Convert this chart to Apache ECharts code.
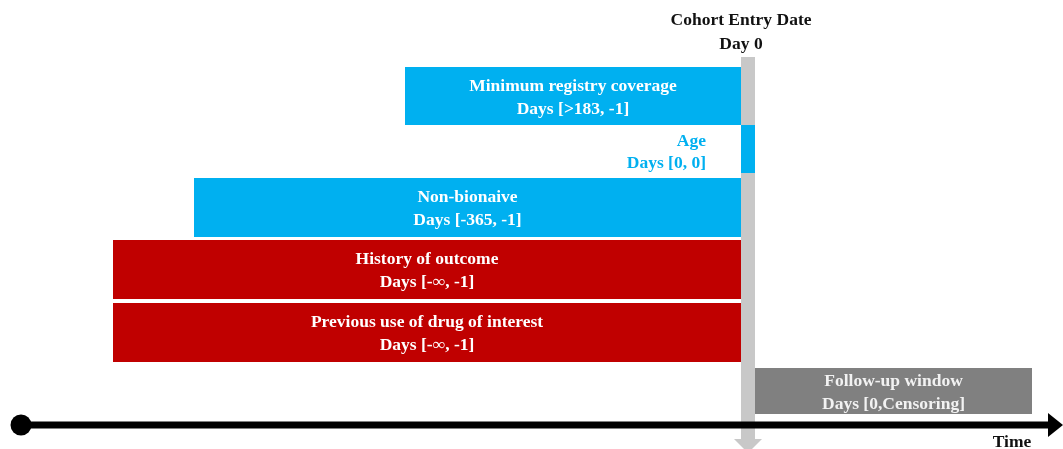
<!DOCTYPE html>
<html>
<head>
<meta charset="utf-8">
<script src="https://cdn.jsdelivr.net/npm/echarts@6/dist/echarts.min.js"></script>
<style>
html,body{margin:0;padding:0;background:#fff;}
#chart{width:1063px;height:449px;}
</style>
</head>
<body>
<div id="chart"></div>
<script>
// Timeline units: 0 = cohort entry date (Day 0), diagram not to scale
const criteria = ['Minimum registry coverage', 'Age', 'Non-bionaive', 'History of outcome', 'Previous use of drug of interest', 'Follow-up window'];
const windows = ['Days [>183, -1]', 'Days [0, 0]', 'Days [-365, -1]', 'Days [-\u221e, -1]', 'Days [-\u221e, -1]', 'Days [0,Censoring]'];
const windowStart = [-336, 0, -547, -628, -628, 14];
const windowEnd = [0, 14, 0, 0, 0, 291];
const rowTop = [67, 125, 178, 240, 303, 368];
const rowBottom = [125, 173, 237, 299, 362, 414];
const kinds = ['inclusion', 'inclusion', 'inclusion', 'exclusion', 'exclusion', 'followup'];
const timelineStart = -720;
const timelineEnd = 322;
const markerTop = 57;
const markerBottom = 449;
const timelineLevel = 425;

const kindColor = { inclusion: '#00B0F0', exclusion: '#C00000', followup: '#808080' };
const FONT = 'bold 17.5px "Liberation Serif", "DejaVu Serif", serif';

const barData = criteria.map((c, i) => [windowStart[i], windowEnd[i], rowTop[i], rowBottom[i], i]);

const chart = echarts.init(document.getElementById('chart'), null, { renderer: 'canvas' });
chart.setOption({
  animation: false,
  backgroundColor: '#ffffff',
  grid: { left: 0, right: 0, top: 0, bottom: 0 },
  xAxis: { type: 'value', min: timelineStart - 21, max: timelineEnd, show: false },
  yAxis: { type: 'value', min: 0, max: 449, inverse: true, show: false },
  series: [
    {
      // Day 0 marker with downward arrow and header
      type: 'custom', z: 1,
      data: [[0, 14, markerTop, markerBottom]],
      renderItem: function (params, api) {
        const p0 = api.coord([api.value(0), api.value(2)]);
        const p1 = api.coord([api.value(1), api.value(3)]);
        const cx = (p0[0] + p1[0]) / 2;
        const headBase = p1[1] - 10;
        return {
          type: 'group', children: [
            { type: 'rect', shape: { x: p0[0], y: p0[1], width: p1[0] - p0[0], height: headBase - p0[1] }, style: { fill: '#C8C8C8' } },
            { type: 'polygon', shape: { points: [[cx - 14, headBase], [cx + 14, headBase], [cx, headBase + 14]] }, style: { fill: '#C8C8C8' } },
            { type: 'text', style: { text: 'Cohort Entry Date', x: cx - 7, y: 20, align: 'center', verticalAlign: 'middle', font: FONT, fill: '#111' } },
            { type: 'text', style: { text: 'Day 0', x: cx - 7, y: 44, align: 'center', verticalAlign: 'middle', font: FONT, fill: '#111' } }
          ]
        };
      }
    },
    {
      type: 'custom', z: 2,
      data: barData,
      renderItem: function (params, api) {
        const i = api.value(4);
        const p0 = api.coord([api.value(0), api.value(2)]);
        const p1 = api.coord([api.value(1), api.value(3)]);
        const kind = kinds[i];
        const children = [
          { type: 'rect', shape: { x: p0[0], y: p0[1], width: p1[0] - p0[0], height: p1[1] - p0[1] }, style: { fill: kindColor[kind] } }
        ];
        const my = (p0[1] + p1[1]) / 2;
        if (p1[0] - p0[0] < 40) {
          children.push({ type: 'text', style: { text: criteria[i], x: p0[0] - 35, y: my - 8, align: 'right', verticalAlign: 'middle', font: FONT, fill: kindColor[kind] } });
          children.push({ type: 'text', style: { text: windows[i], x: p0[0] - 35, y: my + 14, align: 'right', verticalAlign: 'middle', font: FONT, fill: kindColor[kind] } });
        } else {
          const cx = (p0[0] + p1[0]) / 2;
          const fill = kind === 'followup' ? '#F2F2F2' : '#ffffff';
          children.push({ type: 'text', style: { text: criteria[i], x: cx, y: my - 10, align: 'center', verticalAlign: 'middle', font: FONT, fill: fill } });
          children.push({ type: 'text', style: { text: windows[i], x: cx, y: my + 13, align: 'center', verticalAlign: 'middle', font: FONT, fill: fill } });
        }
        return { type: 'group', children: children };
      }
    },
    {
      // Time axis arrow
      type: 'custom', z: 3,
      data: [[timelineStart, timelineEnd, timelineLevel]],
      renderItem: function (params, api) {
        const a = api.coord([api.value(0), api.value(2)]);
        const b = api.coord([api.value(1), api.value(2)]);
        return {
          type: 'group', children: [
            { type: 'rect', shape: { x: a[0], y: a[1] - 3.5, width: b[0] - 14 - a[0], height: 7 }, style: { fill: '#000' } },
            { type: 'circle', shape: { cx: a[0], cy: a[1], r: 10.5 }, style: { fill: '#000' } },
            { type: 'polygon', shape: { points: [[b[0] - 15, a[1] - 12], [b[0], a[1]], [b[0] - 15, a[1] + 12]] }, style: { fill: '#000' } },
            { type: 'text', style: { text: 'Time', x: b[0] - 51, y: a[1] + 17, align: 'center', verticalAlign: 'middle', font: FONT, fill: '#111' } }
          ]
        };
      }
    }
  ]
});
</script>
</body>
</html>
